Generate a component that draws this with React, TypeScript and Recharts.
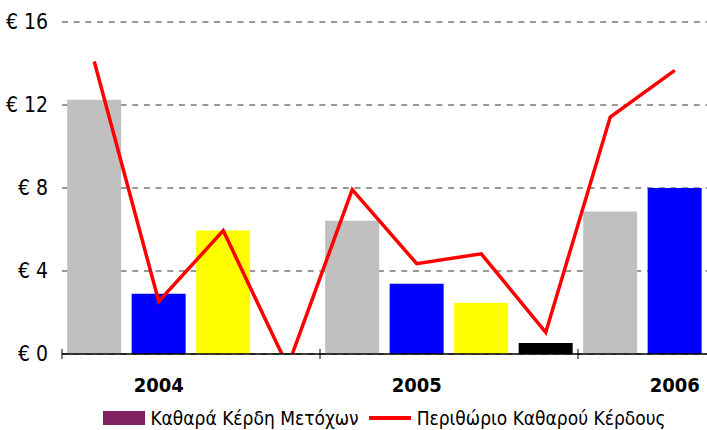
import React from 'react';
import { ComposedChart, Bar, Line, XAxis, YAxis, CartesianGrid, Legend, Cell } from 'recharts';

// quarters from Q1 2004 to Q2 2006
const quarters = ['Q1 04', 'Q2 04', 'Q3 04', 'Q4 04', 'Q1 05', 'Q2 05', 'Q3 05', 'Q4 05', 'Q1 06', 'Q2 06'];
const yearLabels = ['', '2004', '', '', '', '2005', '', '', '', '2006'];
const netProfit = [12.25, 2.9, 5.95, null, 6.42, 3.39, 2.47, 0.53, 6.87, 8.0];
const netMargin = [14.1, 2.53, 5.95, -0.6, 7.92, 4.35, 4.83, 1.04, 11.42, 13.67];
const yTicks = [0, 4, 8, 12, 16];
const groupStarts = [0, 4, 8];

const barColors = ['#c0c0c0', '#0000ff', '#ffff00', '#000000'];

const data = quarters.map((q, i) => ({
  quarter: q,
  year: yearLabels[i],
  profit: netProfit[i],
  margin: netMargin[i],
}));

const FONT = '"DejaVu Sans Condensed", "DejaVu Sans", sans-serif';

const YearTick = (props: any) => {
  const { x, y, payload } = props;
  const i = payload.index ?? props.index;
  const half = payload.offset ?? 32.25;
  return (
    <g>
      {groupStarts.includes(i) && (
        <line x1={x - half} x2={x - half} y1={y - 5} y2={y + 5} stroke="#000" strokeWidth={1} />
      )}
      {yearLabels[i] && (
        <text x={x} y={y + 38} textAnchor="middle" fontFamily={FONT} fontStretch="condensed" fontWeight="bold" fontSize={20} fill="#000">
          {yearLabels[i]}
        </text>
      )}
    </g>
  );
};

const LegendContent = () => (
  <div
    style={{
      height: 36,
      display: 'flex',
      alignItems: 'center',
      justifyContent: 'center',
      paddingTop: 12,
      boxSizing: 'border-box',
      fontFamily: FONT,
      fontStretch: 'condensed',
      fontSize: 19,
      color: '#000',
    }}
  >
    <span style={{ display: 'inline-block', width: 42, height: 14, background: '#802060', marginRight: 5 }} />
    <span style={{ marginRight: 10 }}>Καθαρά Κέρδη Μετόχων</span>
    <span style={{ display: 'inline-block', width: 42, height: 4, background: '#ff0000', marginRight: 6 }} />
    <span>Περιθώριο Καθαρού Κέρδους</span>
  </div>
);

export default function App() {
  return (
    <div style={{ position: 'absolute', left: 0, top: 0, background: '#fff' }}>
      <ComposedChart
        width={707}
        height={430}
        data={data}
        margin={{ top: 22, right: 0, left: 0, bottom: 0 }}
        barCategoryGap="8%"
      >
        <CartesianGrid vertical={false} strokeDasharray="6 5.7" stroke="#333" />
        <XAxis
          dataKey="quarter"
          height={40}
          interval={0}
          tickLine={false}
          tickSize={0}
          tickMargin={0}
          axisLine={{ stroke: '#000', strokeWidth: 1.5 }}
          tick={<YearTick />}
        />
        <YAxis
          width={62}
          domain={[0, 16]}
          ticks={yTicks}
          allowDataOverflow
          axisLine={false}
          tickLine={false}
          tickSize={0}
          tickMargin={14}
          tickFormatter={(v) => `€ ${v}`}
          tick={{ fontFamily: FONT, fontStretch: 'condensed', fontSize: 21, fill: '#000' }}
        />
        <Legend
          verticalAlign="bottom"
          content={<LegendContent />}
          wrapperStyle={{ left: 62, width: 645 }}
        />
        <Bar dataKey="profit" name="Καθαρά Κέρδη Μετόχων" fill="#802060" isAnimationActive={false}>
          {data.map((d, i) => (
            <Cell key={`c-${i}`} fill={barColors[i % 4]} />
          ))}
        </Bar>
        <Line
          dataKey="margin"
          name="Περιθώριο Καθαρού Κέρδους"
          stroke="#ff0000"
          strokeWidth={3.5}
          dot={false}
          type="linear"
          isAnimationActive={false}
        />
      </ComposedChart>
    </div>
  );
}
